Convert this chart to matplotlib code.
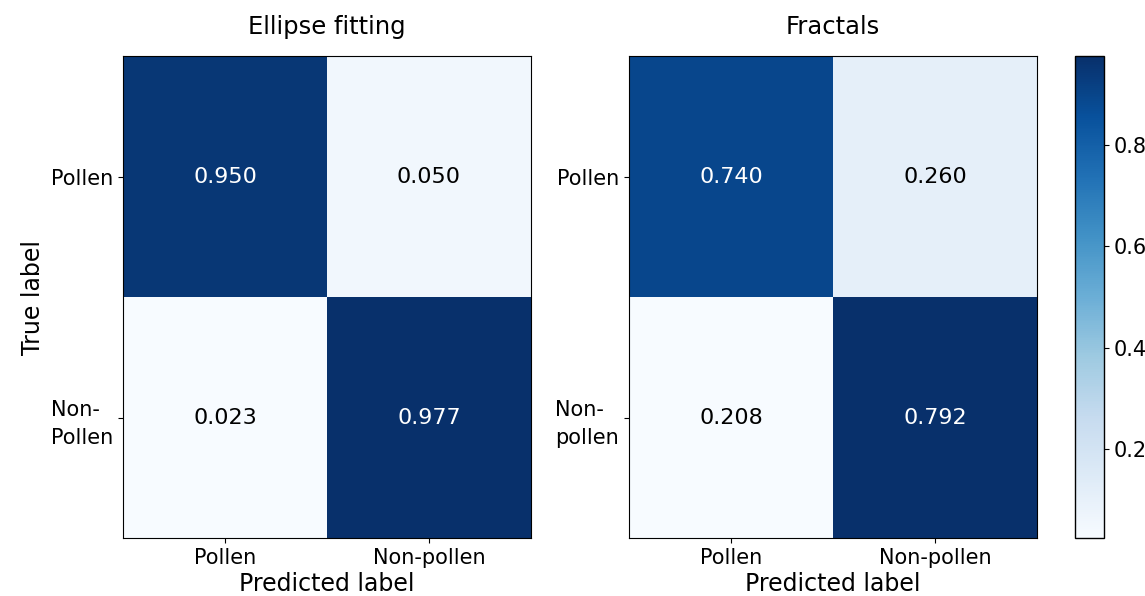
import numpy as np
import matplotlib
matplotlib.use("Agg")
import matplotlib.pyplot as plt

titles = ["Ellipse fitting", "Fractals"]
x_labels = ["Pollen", "Non-pollen"]
y_labels = [["Pollen", "Non-\nPollen"], ["Pollen", "Non-\npollen"]]
ellipse_cm = [[0.950, 0.050], [0.023, 0.977]]
fractal_cm = [[0.740, 0.260], [0.208, 0.792]]

mats = [np.array(ellipse_cm), np.array(fractal_cm)]

fig = plt.figure(figsize=(11.45, 5.96), dpi=100)
ax_pos = [[0.1074, 0.0973, 0.3563, 0.8087], [0.5493, 0.0973, 0.3563, 0.8087]]

ims = []
for i, cm in enumerate(mats):
    ax = fig.add_axes(ax_pos[i])
    # each matrix scaled on its own min/max
    im = ax.imshow(cm, cmap=plt.cm.Blues, aspect='auto', interpolation='nearest')
    ims.append(im)
    ax.set_title(titles[i], fontsize=17.5, pad=16)
    ax.set_xticks(range(len(x_labels)))
    ax.set_xticklabels(x_labels, fontsize=15)
    ax.set_yticks(range(len(y_labels[i])))
    ax.set_yticklabels(y_labels[i], fontsize=15, multialignment='left',
                       linespacing=1.5)
    thresh = cm.max() / 2.
    for r in range(cm.shape[0]):
        for c in range(cm.shape[1]):
            ax.text(c, r, format(cm[r, c], '.3f'), ha='center', va='center',
                    fontsize=16,
                    color='white' if cm[r, c] > thresh else 'black')
    ax.set_xlabel('Predicted label', fontsize=17, labelpad=3)
    if i == 0:
        ax.set_ylabel('True label', fontsize=17)

cax = fig.add_axes([0.9389, 0.0973, 0.0253, 0.8087])
cb = fig.colorbar(ims[0], cax=cax)
cb.set_ticks([0.2, 0.4, 0.6, 0.8])
cb.ax.tick_params(labelsize=15)
cb.outline.set_linewidth(1)

plt.savefig('out.png', dpi=100)
